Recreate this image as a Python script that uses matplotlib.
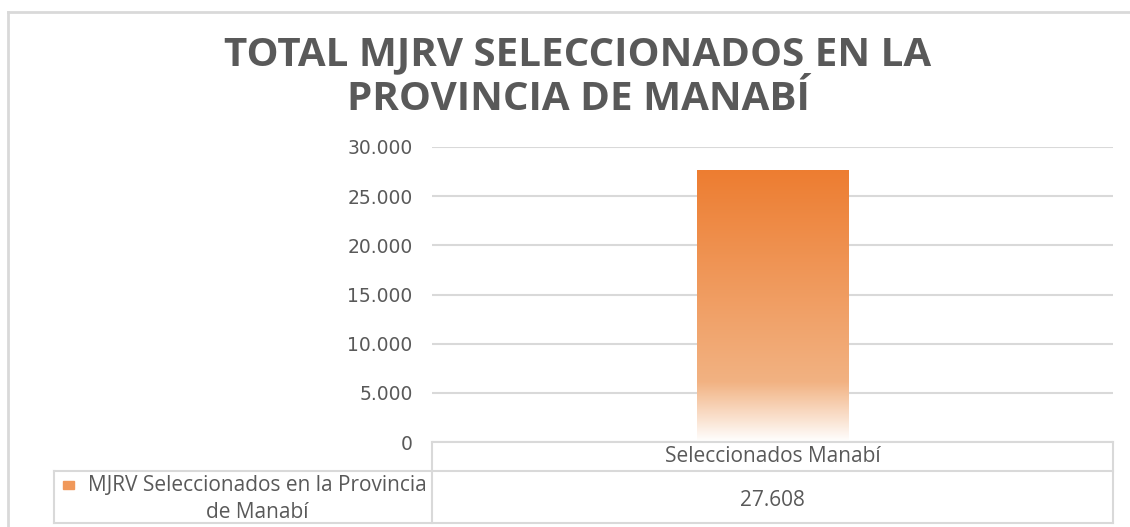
import matplotlib.pyplot as plt
import numpy as np
from matplotlib.colors import LinearSegmentedColormap
from matplotlib.lines import Line2D
from matplotlib.patches import Rectangle
from matplotlib.ticker import FuncFormatter

# data
categories = ['Seleccionados Manabí']
series_name = 'MJRV Seleccionados en la Provincia de Manabí'
values = [27608]
y_ticks = [0, 5000, 10000, 15000, 20000, 25000, 30000]
title = 'TOTAL MJRV SELECCIONADOS EN LA\nPROVINCIA DE MANABÍ'

W, H = 1130, 527
GRID = '#D9D9D9'
TEXT = '#595959'
SANS = ['Open Sans', 'DejaVu Sans']


def fx(px):
    return px / W


def fy(py):
    return 1 - py / H


def thousands(v, pos=None):
    return '{:,}'.format(int(v)).replace(',', '.')


fig = plt.figure(figsize=(W / 100, H / 100), dpi=100)
fig.patch.set_facecolor('white')

# outer chart border (top and left visible)
fig.add_artist(Line2D([fx(8), fx(W)], [fy(12), fy(12)], color=GRID, lw=2))
fig.add_artist(Line2D([fx(8), fx(8)], [fy(12), fy(H)], color=GRID, lw=2))

fig.text(fx(578), fy(77), title, ha='center', va='center', color=TEXT,
         fontsize=29, fontweight='bold', family=SANS, linespacing=1.2)

left, right, top, bottom = 432, 1113, 147, 442
ax = fig.add_axes([fx(left), fy(bottom), fx(right - left), (bottom - top) / H])

cmap = LinearSegmentedColormap.from_list(
    'bar_grad', [(0.0, '#ED7D31'), (0.78, '#F2B282'), (1.0, '#FFFFFF')])

x = np.arange(len(categories))
bars = ax.bar(x, values, width=0.222, color='none', edgecolor='none')
for b in bars:
    x0, y0, w, h = b.get_x(), b.get_y(), b.get_width(), b.get_height()
    grad = np.linspace(1, 0, 256).reshape(-1, 1)
    ax.imshow(grad, cmap=cmap, aspect='auto', origin='lower',
              extent=(x0, x0 + w, y0, y0 + h), zorder=2)

ax.set_xlim(-0.5, len(categories) - 0.5)
ax.set_ylim(0, 30000)
ax.set_yticks(y_ticks)
ax.yaxis.set_major_formatter(FuncFormatter(thousands))
ax.set_xticks([])
ax.tick_params(axis='y', length=0, pad=14, labelsize=13.5, labelcolor=TEXT)
ax.grid(axis='y', color=GRID, lw=1.5)
ax.set_axisbelow(True)
for s in ax.spines.values():
    s.set_visible(False)

# data table
row1, row2, tbl_left = 471, 523, 54
tl = dict(color=GRID, lw=1.5)
fig.add_artist(Line2D([fx(left), fx(right)], [fy(bottom), fy(bottom)], **tl))
fig.add_artist(Line2D([fx(tbl_left), fx(right)], [fy(row1), fy(row1)], **tl))
fig.add_artist(Line2D([fx(tbl_left), fx(right)], [fy(row2), fy(row2)], **tl))
fig.add_artist(Line2D([fx(left), fx(left)], [fy(bottom), fy(row2)], **tl))
fig.add_artist(Line2D([fx(right), fx(right)], [fy(bottom), fy(row2)], **tl))
fig.add_artist(Line2D([fx(tbl_left), fx(tbl_left)], [fy(row1), fy(row2)], **tl))

col_w = (right - left) / len(categories)
for i, (cat, v) in enumerate(zip(categories, values)):
    cx = left + col_w * (i + 0.5)
    fig.text(fx(cx), fy(456), cat, ha='center', va='center',
             color=TEXT, fontsize=15, family=SANS)
    fig.text(fx(cx), fy(500), thousands(v), ha='center',
             va='center', color=TEXT, fontsize=15, family=SANS)

label = series_name.replace(' de Manabí', '\nde Manabí')
fig.text(fx(427), fy(499), label, ha='right', va='center', multialignment='center',
         color=TEXT, fontsize=15, family=SANS, linespacing=1.4)
fig.add_artist(Rectangle((fx(63), fy(489)), fx(11), 8 / H, color='#F0985A',
                         transform=fig.transFigure))

fig.savefig('out.png', dpi=100)
